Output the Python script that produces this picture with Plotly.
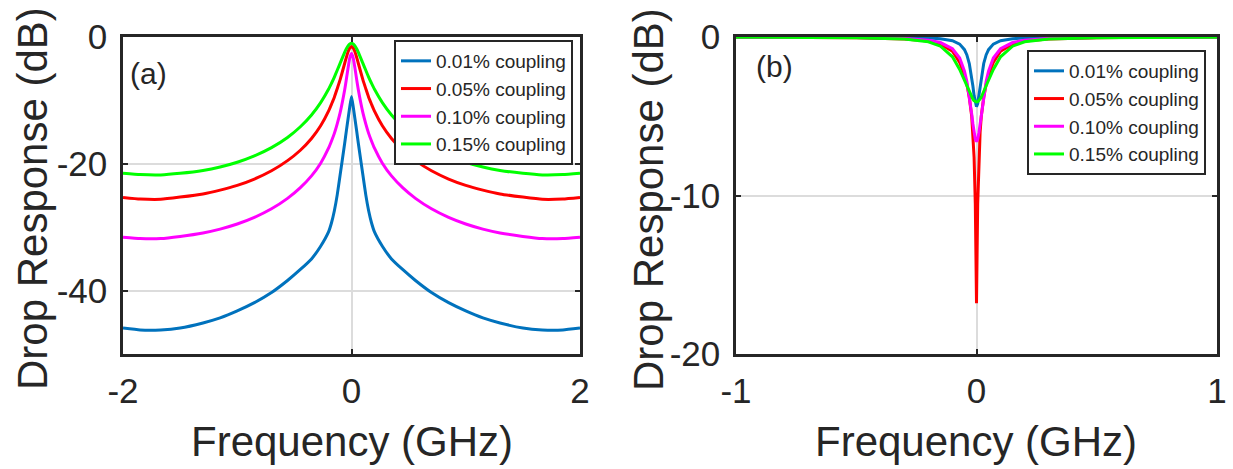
import plotly.graph_objects as go

# ---------------- data ----------------
LABELS = ["0.01% coupling", "0.05% coupling", "0.10% coupling", "0.15% coupling"]
COLORS = ["#0072BD", "#FF0000", "#FF00FF", "#00FF00"]

# panel (a): drop response vs frequency
A_FREQ = [-2.0, -1.85, -1.67, -1.5, -1.3, -1.15, -1.0, -0.85, -0.7, -0.56, -0.45, -0.35, -0.27, -0.2, -0.175,
          -0.15, -0.125, -0.1, -0.06, -0.045, -0.03, -0.015, 0.0, 0.015, 0.03, 0.045, 0.06, 0.1, 0.125, 0.15,
          0.175, 0.2, 0.27, 0.35, 0.45, 0.56, 0.7, 0.85, 1.0, 1.15, 1.3, 1.5, 1.67, 1.85, 2.0]
A_C001 = [-45.9, -46.2, -46.2, -45.9, -45.1, -44.3, -43.2, -41.9, -40.3, -38.4, -36.7, -35.0, -33.0, -30.7, -29.3,
          -27.4, -24.9, -21.8, -16.8, -14.8, -12.9, -11.0, -9.4, -11.0, -12.9, -14.8, -16.8, -21.8, -24.9, -27.4,
          -29.3, -30.7, -33.0, -35.0, -36.7, -38.4, -40.3, -41.9, -43.2, -44.3, -45.1, -45.9, -46.2, -46.2, -45.9]
A_C005 = [-25.3, -25.55, -25.6, -25.25, -24.75, -24.15, -23.4, -22.4, -21.1, -19.5, -17.9, -16.0, -14.0, -11.66, -10.6,
          -9.5, -8.15, -6.77, -4.18, -3.2, -2.34, -1.73, -1.5, -1.73, -2.34, -3.2, -4.18, -6.77, -8.15, -9.5,
          -10.6, -11.66, -14.0, -16.0, -17.9, -19.5, -21.1, -22.4, -23.4, -24.15, -24.75, -25.25, -25.6, -25.55, -25.3]
A_C010 = [-31.6, -31.8, -31.8, -31.45, -30.9, -30.3, -29.5, -28.45, -27.1, -25.45, -23.8, -21.9, -19.9, -17.5, -16.4,
          -15.2, -13.7, -11.98, -8.36, -6.68, -4.88, -3.29, -2.6, -3.29, -4.88, -6.68, -8.36, -11.98, -13.7, -15.2,
          -16.4, -17.5, -19.9, -21.9, -23.8, -25.45, -27.1, -28.45, -29.5, -30.3, -30.9, -31.45, -31.8, -31.8, -31.6]
A_C015 = [-21.5, -21.7, -21.75, -21.5, -21.05, -20.5, -19.75, -18.75, -17.45, -15.85, -14.2, -12.3, -10.35, -8.21, -7.3,
          -6.33, -5.25, -4.17, -2.42, -1.86, -1.4, -1.1, -1.0, -1.1, -1.4, -1.86, -2.42, -4.17, -5.25, -6.33,
          -7.3, -8.21, -10.35, -12.3, -14.2, -15.85, -17.45, -18.75, -19.75, -20.5, -21.05, -21.5, -21.75, -21.7, -21.5]

# panel (b): response vs frequency
B_FREQ = [-1.0, -0.7, -0.5, -0.3, -0.2, -0.15, -0.1, -0.07, -0.05, -0.04, -0.03, -0.02, -0.015, -0.01, -0.005,
          0.0, 0.005, 0.01, 0.015, 0.02, 0.03, 0.04, 0.05, 0.07, 0.1, 0.15, 0.2, 0.3, 0.5, 0.7, 1.0]
B_C001 = [-0.003, -0.005, -0.01, -0.027, -0.061, -0.108, -0.235, -0.45, -0.8, -1.13, -1.67, -2.53, -3.09, -3.7, -4.2,
          -4.4, -4.2, -3.7, -3.09, -2.53, -1.67, -1.13, -0.8, -0.45, -0.235, -0.108, -0.061, -0.027, -0.01, -0.005, -0.003]
B_C005 = [-0.01, -0.02, -0.04, -0.12, -0.26, -0.45, -0.9, -1.6, -2.4, -3.0, -3.8, -5.0, -6.0, -7.6, -10.5,
          -16.8, -10.5, -7.6, -6.0, -5.0, -3.8, -3.0, -2.4, -1.6, -0.9, -0.45, -0.26, -0.12, -0.04, -0.02, -0.01]
B_C010 = [-0.009, -0.017, -0.03, -0.09, -0.2, -0.35, -0.74, -1.33, -2.15, -2.81, -3.71, -4.85, -5.47, -6.04, -6.45,
          -6.6, -6.45, -6.04, -5.47, -4.85, -3.71, -2.81, -2.15, -1.33, -0.74, -0.35, -0.2, -0.09, -0.03, -0.017, -0.009]
B_C015 = [-0.012, -0.025, -0.05, -0.13, -0.3, -0.58, -1.25, -2.05, -2.73, -3.1, -3.47, -3.79, -3.92, -4.02, -4.08,
          -4.1, -4.08, -4.02, -3.92, -3.79, -3.47, -3.1, -2.73, -2.05, -1.25, -0.58, -0.3, -0.13, -0.05, -0.025, -0.012]

A_XTICKS = [-2, 0, 2]
A_YTICKS = [-40, -20, 0]
B_XTICKS = [-1, 0, 1]
B_YTICKS = [-20, -10, 0]

# ---------------- figure ----------------
W, H = 1233, 469
FONT = "Liberation Sans, Arial, Helvetica, sans-serif"
DARK = "#262626"

fig = go.Figure()
for ys, lab, col in zip([A_C001, A_C005, A_C010, A_C015], LABELS, COLORS):
    fig.add_trace(go.Scatter(x=A_FREQ, y=ys, mode="lines", name=lab,
                             line=dict(color=col, width=3, shape="spline", smoothing=0.4),
                             xaxis="x", yaxis="y", legend="legend"))
for ys, lab, col in zip([B_C001, B_C005, B_C010, B_C015], LABELS, COLORS):
    fig.add_trace(go.Scatter(x=B_FREQ, y=ys, mode="lines", name=lab,
                             line=dict(color=col, width=3),
                             xaxis="x2", yaxis="y2", legend="legend2"))


def ticktext(vals):
    return [str(v) for v in vals]


def px_x(p):
    return p / W


def px_y(p):
    return 1 - p / H


common_axis = dict(showline=True, linecolor=DARK, linewidth=2.5, mirror="ticks",
                   ticks="inside", ticklen=5, tickwidth=2, tickcolor=DARK,
                   showgrid=True, gridcolor="#dcdcdc", gridwidth=2, zeroline=False,
                   tickfont=dict(size=35, color=DARK, family=FONT), automargin=False,
                   fixedrange=True)

ydom = [px_y(354), px_y(37)]
fig.update_layout(
    width=W, height=H,
    margin=dict(l=0, r=0, t=0, b=0),
    paper_bgcolor="white", plot_bgcolor="white",
    font=dict(family=FONT, color=DARK),
    xaxis=dict(domain=[px_x(123), px_x(580)], range=[-2, 2], tickvals=A_XTICKS,
               ticktext=ticktext(A_XTICKS), anchor="y", ticklabelstandoff=4, **common_axis),
    yaxis=dict(domain=ydom, range=[-50, 0], tickvals=A_YTICKS,
               ticktext=ticktext(A_YTICKS), anchor="x", ticklabelstandoff=6, **common_axis),
    xaxis2=dict(domain=[px_x(736), px_x(1217)], range=[-1, 1], tickvals=B_XTICKS,
                ticktext=ticktext(B_XTICKS), anchor="y2", ticklabelstandoff=4, **common_axis),
    yaxis2=dict(domain=ydom, range=[-20, 0], tickvals=B_YTICKS,
                ticktext=ticktext(B_YTICKS), anchor="x2", ticklabelstandoff=6, **common_axis),
    legend=dict(x=px_x(573), y=px_y(40), xanchor="right", yanchor="top",
                bgcolor="white", bordercolor=DARK, borderwidth=2,
                font=dict(size=19, color=DARK, family=FONT), tracegroupgap=0),
    legend2=dict(x=px_x(1206), y=px_y(50), xanchor="right", yanchor="top",
                 bgcolor="white", bordercolor=DARK, borderwidth=2,
                 font=dict(size=19, color=DARK, family=FONT), tracegroupgap=0),
    showlegend=True,
)

ann = [
    dict(text="Drop Response (dB)", x=px_x(33), y=px_y(199), textangle=-90, font=dict(size=42)),
    dict(text="Drop Response (dB)", x=px_x(649), y=px_y(199), textangle=-90, font=dict(size=42)),
    dict(text="Frequency (GHz)", x=px_x(352), y=px_y(441), font=dict(size=42)),
    dict(text="Frequency (GHz)", x=px_x(976), y=px_y(441), font=dict(size=42)),
    dict(text="(a)", x=px_x(148), y=px_y(73), font=dict(size=30)),
    dict(text="(b)", x=px_x(774), y=px_y(67), font=dict(size=30)),
]
for a in ann:
    a.update(xref="paper", yref="paper", showarrow=False, xanchor="center", yanchor="middle")
    a["font"].update(family=FONT, color=DARK)
fig.update_layout(annotations=ann)

fig.write_html("out.html", config={"displayModeBar": False},
               post_script="document.body.style.margin='0';document.body.style.padding='0';")
